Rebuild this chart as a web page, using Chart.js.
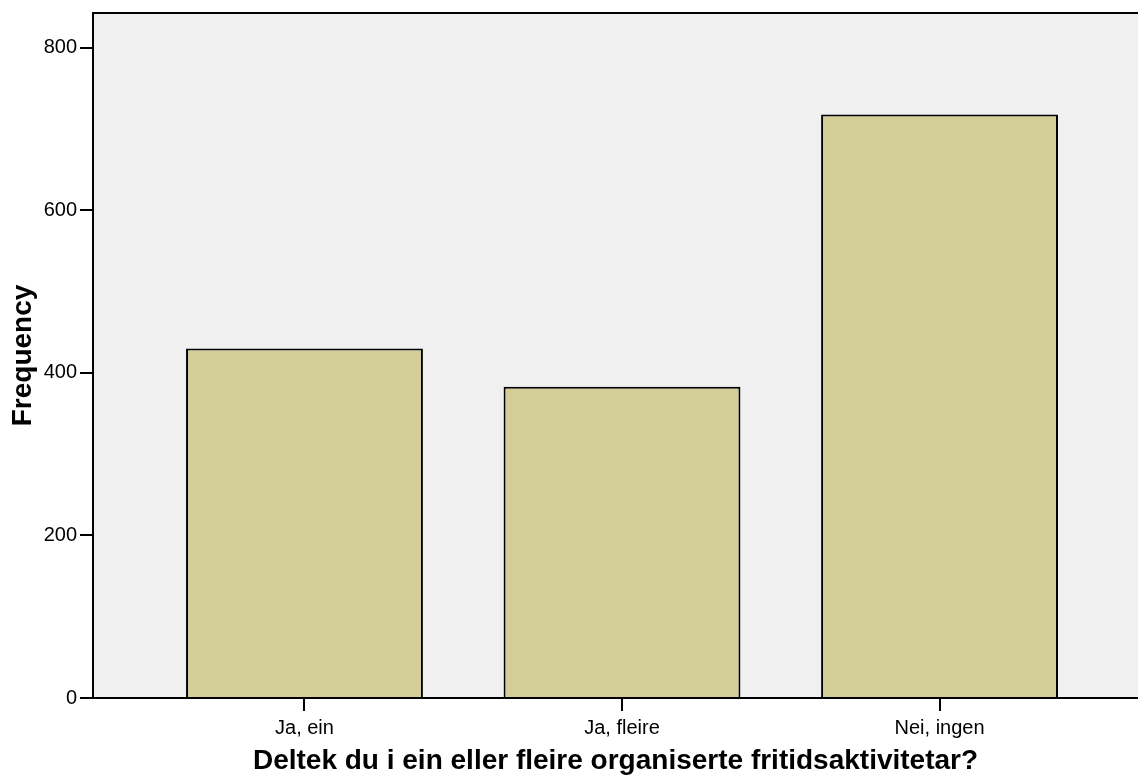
<!DOCTYPE html>
<html>
<head>
<meta charset="utf-8">
<script src="https://cdn.jsdelivr.net/npm/chart.js@4/dist/chart.umd.min.js"></script>
<style>
html,body{margin:0;padding:0;background:#fff;}
#wrap{width:1138px;height:778px;}
</style>
</head>
<body>
<div id="wrap"><canvas id="c" width="1138" height="778"></canvas></div>
<script>
const categories = ["Ja, ein", "Ja, fleire", "Nei, ingen"];
const frequencies = [430, 383, 718];
const yTicks = [0, 200, 400, 600, 800];
const xTitle = "Deltek du i ein eller fleire organiserte fritidsaktivitetar?";
const yTitle = "Frequency";

const FONT = "'Liberation Sans', Arial, sans-serif";

const plotBg = {
  id: 'plotBg',
  beforeDraw(chart) {
    const {ctx, chartArea: a} = chart;
    ctx.save();
    ctx.fillStyle = '#F0F0F0';
    ctx.fillRect(a.left, a.top, a.right - a.left, a.bottom - a.top);
    ctx.strokeStyle = '#000';
    ctx.lineWidth = 2;
    ctx.beginPath();
    ctx.moveTo(a.left, a.top);
    ctx.lineTo(a.right, a.top);
    ctx.stroke();
    ctx.restore();
  }
};

new Chart(document.getElementById('c'), {
  type: 'bar',
  data: {
    datasets: [{
      data: frequencies.map((v, i) => ({x: i + 1, y: v})),
      backgroundColor: '#D3CE97',
      borderColor: '#000',
      borderWidth: 2,
      borderSkipped: 'bottom',
      barPercentage: 0.746,
      categoryPercentage: 1
    }]
  },
  options: {
    responsive: false,
    animation: false,
    layout: {padding: {top: 13, right: 0, left: 0, bottom: 0}},
    plugins: {legend: {display: false}, tooltip: {enabled: false}},
    scales: {
      x: {
        type: 'linear',
        offset: false,
        min: 0.334,
        max: 3.625,
        afterBuildTicks: s => { s.ticks = categories.map((c, i) => ({value: i + 1})); },
        afterFit: s => { s.height = 80; s.paddingLeft = 0; s.paddingRight = 0; },
        ticks: {
          callback: v => categories[Math.round(v) - 1],
          color: '#000',
          font: {family: FONT, size: 20},
          padding: 5,
          maxRotation: 0,
          autoSkip: false
        },
        grid: {offset: false, drawOnChartArea: false, drawTicks: true, tickLength: 13, color: '#000', lineWidth: 2},
        border: {color: '#000', width: 2},
        title: {
          display: true,
          text: xTitle,
          color: '#000',
          font: {family: FONT, size: 28, weight: 'bold'},
          padding: {top: 0, bottom: 0}
        }
      },
      y: {
        min: 0,
        max: 843,
        afterBuildTicks: s => { s.ticks = yTicks.map(v => ({value: v})); },
        afterFit: s => { s.width = 93; s.paddingTop = 0; s.paddingBottom = 0; },
        ticks: {
          color: '#000',
          font: {family: FONT, size: 20},
          padding: 3
        },
        grid: {drawOnChartArea: false, drawTicks: true, tickLength: 13, color: '#000', lineWidth: 2},
        border: {color: '#000', width: 2},
        title: {
          display: true,
          text: yTitle,
          color: '#000',
          font: {family: FONT, size: 28, weight: 'bold'},
          padding: {top: 6, bottom: 0}
        }
      }
    }
  },
  plugins: [plotBg]
});
</script>
</body>
</html>
